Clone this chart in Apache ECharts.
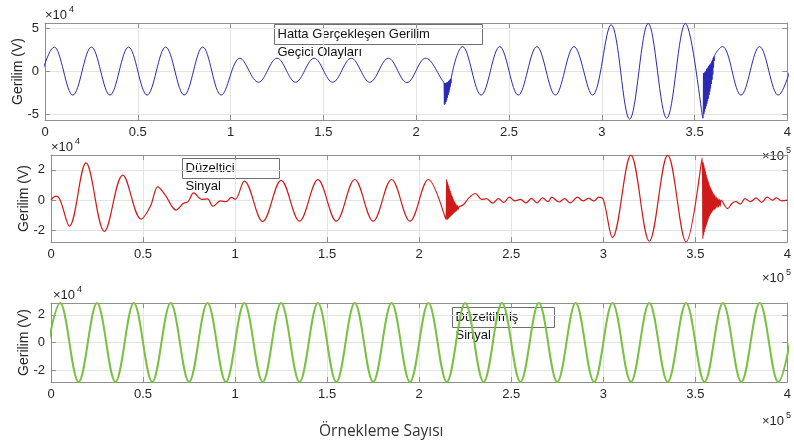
<!DOCTYPE html>
<html>
<head>
<meta charset="utf-8">
<script src="https://cdn.jsdelivr.net/npm/echarts@6/dist/echarts.min.js"></script>
<style>
  html, body { margin: 0; padding: 0; background: #fff; }
  #chart { width: 794px; height: 445px; }
</style>
</head>
<body>
<div id="chart"></div>
<script>
// x in units of 1e5 samples, voltage in units of 1e4 V
// mostly peaks/troughs, denser where the transients ring
const lineVoltage = [
  [-0.05, -2.8], [0.05, 2.8], [0.15, -2.8], [0.25, 2.8], [0.35, -2.8], [0.45, 2.8], [0.55, -2.8],
  [0.65, 2.8], [0.75, -2.8], [0.85, 2.8], [0.95, -2.8],
  [1.05, 1.5], [1.15, -1.3], [1.25, 1.5], [1.35, -1.3], [1.45, 1.5], [1.55, -1.3], [1.65, 1.5],
  [1.75, -1.3], [1.85, 1.5], [1.95, -1.35], [2.05, 1.5], [2.148, -1.3],
  [2.150, -1.4], [2.152, -3.9], [2.154, -1.4], [2.156, -3.8], [2.158, -1.4], [2.160, -3.6], [2.162, -1.4],
  [2.164, -3.4], [2.166, -1.3], [2.168, -3.1], [2.170, -1.3], [2.172, -2.8], [2.174, -1.2], [2.176, -2.5],
  [2.178, -1.1], [2.180, -2.2], [2.182, -1.0], [2.184, -1.8], [2.186, -0.9], [2.188, -1.4], [2.190, -0.7],
  [2.25, 2.85], [2.35, -2.8], [2.45, 2.85], [2.55, -2.8], [2.65, 2.85], [2.75, -2.8], [2.85, 2.85],
  [2.95, -2.8],
  [3.05, 5.4], [3.15, -5.6], [3.25, 5.55], [3.35, -5.5], [3.45, 5.55], [3.545, -5.5],
  [3.548, -0.25], [3.550, -5.0], [3.552, -0.2], [3.554, -4.7], [3.556, -0.1], [3.558, -4.4], [3.560, 0.0],
  [3.562, -4.1], [3.564, 0.2], [3.566, -3.8], [3.568, 0.3], [3.570, -3.5], [3.572, 0.4], [3.574, -3.2],
  [3.576, 0.6], [3.578, -2.8], [3.580, 0.7], [3.582, -2.4], [3.584, 0.8], [3.586, -2.0], [3.588, 0.9],
  [3.590, -1.5], [3.592, 1.1], [3.594, -1.0], [3.596, 1.3], [3.598, -0.4], [3.600, 1.5], [3.602, 0.4],
  [3.604, 1.7], [3.606, 1.2], [3.61, 1.9],
  [3.65, 2.86], [3.75, -2.8], [3.85, 2.85], [3.95, -2.8], [4.05, 2.85]
]

const compVoltage = [
  [0, 0], [0.027, 0.26], [0.05, 0], [0.1, -1.7], [0.19, 2.45], [0.29, -2.05], [0.39, 1.65],
  [0.49, -1.25], [0.54, -0.4], [0.58, 0.88], [0.62, 0.35],
  [0.68, -0.65], [0.72, -0.2], [0.745, -0.1], [0.775, 0.48], [0.82, 0.05], [0.85, 0.08], [0.88, -0.4],
  [0.92, -0.05], [0.95, -0.1], [0.98, 0.18], [1.0, 0.05],
  [1.05, 1.25], [1.15, -1.4], [1.25, 1.3], [1.35, -1.38], [1.45, 1.35], [1.55, -1.38], [1.65, 1.36],
  [1.75, -1.38], [1.85, 1.36], [1.95, -1.38], [2.05, 1.36], [2.145, -1.25],
  [2.149, 1.36], [2.151, -1.3], [2.153, 1.2], [2.155, -1.25], [2.157, 1.05], [2.159, -1.2], [2.161, 0.9],
  [2.163, -1.15], [2.165, 0.75], [2.167, -1.1], [2.169, 0.6], [2.171, -1.05], [2.173, 0.45], [2.175, -1.0],
  [2.177, 0.3], [2.179, -0.95], [2.181, 0.2], [2.183, -0.9], [2.185, 0.05], [2.187, -0.85], [2.189, -0.05],
  [2.191, -0.8], [2.194, -0.15], [2.197, -0.75], [2.200, -0.25], [2.204, -0.7], [2.208, -0.35],
  [2.212, -0.6], [2.216, -0.45],
  [2.24, -0.3], [2.27, 0.15], [2.305, 0.44], [2.34, 0.05], [2.365, 0.1], [2.4, -0.2], [2.43, 0.1],
  [2.46, -0.15], [2.49, 0.2], [2.52, -0.05], [2.55, 0.05], [2.58, -0.18], [2.61, 0.12], [2.64, -0.18],
  [2.67, 0.15], [2.70, -0.1], [2.72, 0.2], [2.76, -0.12], [2.79, 0.1], [2.82, -0.18], [2.86, 0.2],
  [2.89, -0.05], [2.92, 0.12], [2.95, -0.05], [2.975, 0.2], [3.0, 0.05],
  [3.05, -2.45], [3.15, 2.96], [3.25, -2.7], [3.35, 2.96], [3.45, -2.75], [3.537, 2.79],
  [3.541, -2.55], [3.543, 2.5], [3.545, -2.3], [3.547, 2.3], [3.549, -2.1], [3.551, 2.1], [3.553, -1.9],
  [3.555, 1.9], [3.557, -1.75], [3.559, 1.7], [3.561, -1.6], [3.563, 1.5], [3.565, -1.45], [3.567, 1.35],
  [3.569, -1.3], [3.571, 1.2], [3.573, -1.15], [3.575, 1.05], [3.577, -1.05], [3.579, 0.9], [3.581, -0.95],
  [3.583, 0.8], [3.585, -0.85], [3.587, 0.7], [3.589, -0.8], [3.591, 0.6], [3.593, -0.7], [3.595, 0.5],
  [3.598, -0.65], [3.601, 0.4], [3.604, -0.6], [3.607, 0.3], [3.61, -0.55], [3.614, 0.2], [3.618, -0.5],
  [3.622, 0.12], [3.626, -0.45], [3.63, 0.05], [3.635, -0.4], [3.64, 0.0],
  [3.675, -0.55], [3.7, -0.2], [3.72, -0.1], [3.745, -0.25], [3.77, 0.1], [3.8, -0.1], [3.83, 0.15],
  [3.86, -0.15], [3.89, 0.2], [3.92, 0], [3.94, 0.15], [3.97, -0.05], [4.0, 0.0]
]

const fixedVoltage = [
  [-0.05, -2.86], [0.05, 2.86], [0.15, -2.86], [0.25, 2.86], [0.35, -2.86], [0.45, 2.86], [0.55, -2.86],
  [0.65, 2.86], [0.75, -2.86], [0.85, 2.86], [0.95, -2.86], [1.05, 2.86], [1.15, -2.86], [1.25, 2.86],
  [1.35, -2.86], [1.45, 2.86], [1.55, -2.86], [1.65, 2.86], [1.75, -2.86], [1.85, 2.86], [1.95, -2.86],
  [2.05, 2.86], [2.15, -2.86], [2.25, 2.86], [2.35, -2.86], [2.45, 2.86], [2.55, -2.86], [2.65, 2.86],
  [2.75, -2.86], [2.85, 2.86], [2.95, -2.86], [3.05, 2.86], [3.15, -2.86], [3.25, 2.86], [3.35, -2.86],
  [3.45, 2.86], [3.55, -2.86], [3.65, 2.86], [3.75, -2.86], [3.85, 2.86], [3.95, -2.86], [4.05, 2.86]
]

const yTicksLine = [-5, 0, 5]
const yTicksComp = [-2, 0, 2]
const yTicksFixed = [-2, 0, 2]
const yLimits = [[-5.7, 5.6], [-2.75, 2.97], [-2.86, 2.86]]
const yLabel = 'Gerilim (V)'
const xLabel = 'Örnekleme Sayısı'
const notes = [
  ['Hatta Gerçekleşen Gerilim', 'Geçici Olayları'],
  ['Düzeltici', 'Sinyal'],
  ['Düzeltilmiş', 'Sinyal']
]

const FONT = 'Liberation Sans'
const FRAME = '#8f8f8f'
const GRID = '#e4e4e4'
const TEXT = '#262626'

const grids = [
  { left: 45, right: 1, top: 23, height: 97 },
  { left: 51, right: 1, top: 155, height: 87 },
  { left: 51, right: 1, top: 303, height: 79 }
]
const yTicks = [yTicksLine, yTicksComp, yTicksFixed]

const xAxes = []
const yAxes = []
grids.forEach((g, i) => {
  const common = {
    gridIndex: i, type: 'value', min: 0, max: 4, interval: 0.5,
    axisLine: { show: true, onZero: false, lineStyle: { color: FRAME, width: 1 } },
    axisTick: { show: true, inside: true, length: 5, lineStyle: { color: FRAME } }
  }
  xAxes.push({
    ...common, position: 'bottom',
    axisLabel: { color: TEXT, fontSize: 13, fontFamily: FONT, margin: 6 },
    splitLine: { show: true, lineStyle: { color: GRID, width: 1 } }
  })
  xAxes.push({
    ...common, position: 'top',
    axisLabel: { show: false }, splitLine: { show: false }
  })
  const [lo, hi] = yLimits[i]
  const ycommon = {
    gridIndex: i, type: 'value', min: lo, max: hi,
    axisLine: { show: true, onZero: false, lineStyle: { color: FRAME, width: 1 } },
    axisTick: { show: true, inside: true, length: 5, customValues: yTicks[i], lineStyle: { color: FRAME } }
  }
  yAxes.push({
    ...ycommon, position: 'left',
    axisLabel: { color: TEXT, fontSize: 13, fontFamily: FONT, margin: 6, customValues: yTicks[i] },
    splitLine: { show: true, lineStyle: { color: GRID, width: 1 } },
    name: yLabel, nameLocation: 'middle', nameGap: 20, nameMoveOverlap: false,
    nameTextStyle: { color: TEXT, fontSize: 14, fontFamily: FONT }
  })
  yAxes.push({
    ...ycommon, position: 'right',
    axisLabel: { show: false }, splitLine: { show: false }
  })
})

const lineSeries = (data, idx, color, width) => ({
  type: 'line', data, xAxisIndex: idx * 2, yAxisIndex: idx * 2,
  showSymbol: false, smooth: 0.36, clip: true,
  lineStyle: { color, width }, itemStyle: { color }
})

// small helper for MATLAB-style exponent labels
const expLabel = (x, y, p) => ({
  type: 'group', left: x, top: y,
  children: [
    { type: 'text', x: 0, y: 4, style: { text: '×10', fontSize: 13, fontFamily: FONT, fill: TEXT } },
    { type: 'text', x: 24, y: 0, style: { text: String(p), fontSize: 9, fontFamily: FONT, fill: TEXT } }
  ]
})

const noteBox = (x, y, w, lines) => ({
  type: 'group', left: x, top: y,
  children: [
    { type: 'rect', shape: { x: 0, y: 0, width: w, height: 20 }, style: { fill: 'none', stroke: '#6e6e6e', lineWidth: 1 } },
    { type: 'text', x: 3, y: 3, style: { text: lines[0], fontSize: 13, fontFamily: FONT, fill: '#111' } },
    { type: 'text', x: 3, y: 21, style: { text: lines[1], fontSize: 13, fontFamily: FONT, fill: '#111' } }
  ]
})

const chart = echarts.init(document.getElementById('chart'))
chart.setOption({
  animation: false,
  backgroundColor: '#fff',
  grid: grids,
  xAxis: xAxes,
  yAxis: yAxes,
  series: [
    lineSeries(lineVoltage, 0, '#2a2ab4', 1),
    lineSeries(compVoltage, 1, '#cf1a1a', 1.2),
    lineSeries(fixedVoltage, 2, '#79c141', 2)
  ],
  graphic: [
    expLabel(45, 5, 4),
    expLabel(51, 137, 4),
    expLabel(53, 285, 4),
    expLabel(762, 146, 5),
    expLabel(762, 268, 5),
    expLabel(762, 411, 5),
    noteBox(272, 22, 208, notes[0]),
    noteBox(180, 156, 97, notes[1]),
    noteBox(450, 305, 102, notes[2]),
    { type: 'text', left: 319, top: 424, style: { text: xLabel, fontSize: 15.5, fontFamily: 'Open Sans', fill: '#333' } }
  ]
})
</script>
</body>
</html>
